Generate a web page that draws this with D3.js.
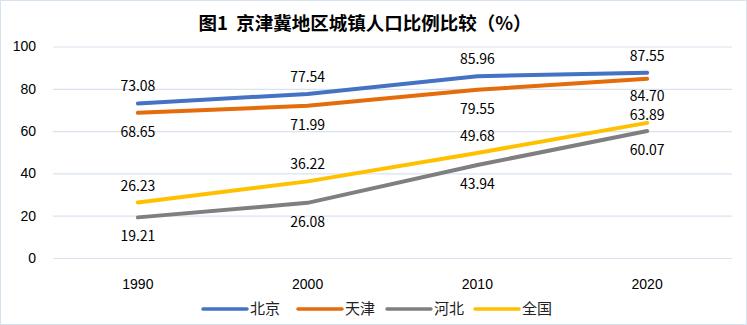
<!DOCTYPE html>
<html lang="zh">
<head>
<meta charset="UTF-8">
<title>京津冀地区城镇人口比例比较</title>
<script src="https://cdn.jsdelivr.net/npm/d3@7"></script>
<style>
    body { margin: 0; background: #fff; }
    svg { font-family: "Noto Sans CJK SC", "Open Sans", sans-serif; }
    .tick text { font-size: 14px; fill: #000; }
    .lbl { font-size: 14px; fill: #000; }
    .legend text { font-size: 15px; fill: #222; }
</style>
</head>
<body>
<div id="chart"></div>
<script>
    const years = ["1990", "2000", "2010", "2020"];
    const seriesNames = ["北京", "天津", "河北", "全国"];
    const beijing = [73.08, 77.54, 85.96, 87.55];
    const tianjin = [68.65, 71.99, 79.55, 84.70];
    const hebei = [19.21, 26.08, 43.94, 60.07];
    const national = [26.23, 36.22, 49.68, 63.89];
    const yTicks = [0, 20, 40, 60, 80, 100];

    const width = 747, height = 325;
    const margin = {top: 46.5, right: 15, bottom: 67, left: 53};

    const series = [
        {name: seriesNames[0], values: beijing, color: "#4472C4", pos: "above"},
        {name: seriesNames[1], values: tianjin, color: "#E46C0A", pos: "below"},
        {name: seriesNames[2], values: hebei, color: "#7F7F7F", pos: "below"},
        {name: seriesNames[3], values: national, color: "#FFC000", pos: "above"}
    ];

    const svg = d3.select("#chart").append("svg")
        .attr("width", width)
        .attr("height", height);

    // outer border
    svg.append("rect")
        .attr("x", 0.5).attr("y", 0.5)
        .attr("width", width - 1).attr("height", height - 1)
        .attr("fill", "#fff")
        .attr("stroke", "#d6e2ef");

    const x = d3.scaleBand()
        .domain(years)
        .range([margin.left, width - margin.right]);

    const y = d3.scaleLinear()
        .domain([0, 100])
        .range([height - margin.bottom, margin.top]);

    // title
    svg.append("text")
        .attr("x", 365)
        .attr("y", 30)
        .attr("text-anchor", "middle")
        .style("font-size", "18.5px")
        .style("font-weight", "bold")
        .style("white-space", "pre")
        .text("图1  京津冀地区城镇人口比例比较（%）");

    // gridlines + y axis
    const yAxis = svg.append("g")
        .attr("transform", `translate(${margin.left},0)`)
        .call(d3.axisLeft(y).tickValues(yTicks).tickSize(-(width - margin.left - margin.right)).tickPadding(17));
    yAxis.select(".domain").remove();
    yAxis.selectAll(".tick line").attr("stroke", "#d9e3f0").attr("stroke-width", 1.2);

    // x axis
    const xAxis = svg.append("g")
        .attr("transform", `translate(0,${height - margin.bottom})`)
        .call(d3.axisBottom(x).tickSize(0).tickPadding(21));
    xAxis.select(".domain").remove();
    xAxis.selectAll("text").style("font-size", "14px");

    const line = d3.line()
        .x((d, i) => x(years[i]) + x.bandwidth() / 2)
        .y(d => y(d));

    svg.append("g").selectAll("path")
        .data(series)
        .join("path")
        .attr("fill", "none")
        .attr("stroke", d => d.color)
        .attr("stroke-width", 4)
        .attr("stroke-linecap", "round")
        .attr("d", d => line(d.values));

    // data labels (the two crowded 2020 labels are squeezed apart, as in the original)
    const labelOffset = (s, i) => {
        if (s.name === "天津" && i === 3) return 22;
        if (s.pos === "below") return 24;
        if (s.name === "全国" && i === 3) return -3;
        return -12;
    };
    series.forEach(s => {
        svg.append("g").selectAll("text")
            .data(s.values)
            .join("text")
            .attr("class", "lbl")
            .attr("text-anchor", "middle")
            .attr("x", (d, i) => x(years[i]) + x.bandwidth() / 2)
            .attr("y", (d, i) => y(d) + labelOffset(s, i))
            .text(d => d.toFixed(2));
    });

    // legend
    const legendX = [203, 298, 387, 475];
    const legend = svg.append("g").attr("class", "legend");
    series.forEach((s, i) => {
        const g = legend.append("g").attr("transform", `translate(${legendX[i]},309)`);
        g.append("line")
            .attr("x1", 0).attr("x2", 44)
            .attr("stroke", s.color)
            .attr("stroke-width", 3.5)
            .attr("stroke-linecap", "round");
        g.append("text")
            .attr("x", 47)
            .attr("y", 5)
            .text(s.name);
    });
</script>
</body>
</html>
